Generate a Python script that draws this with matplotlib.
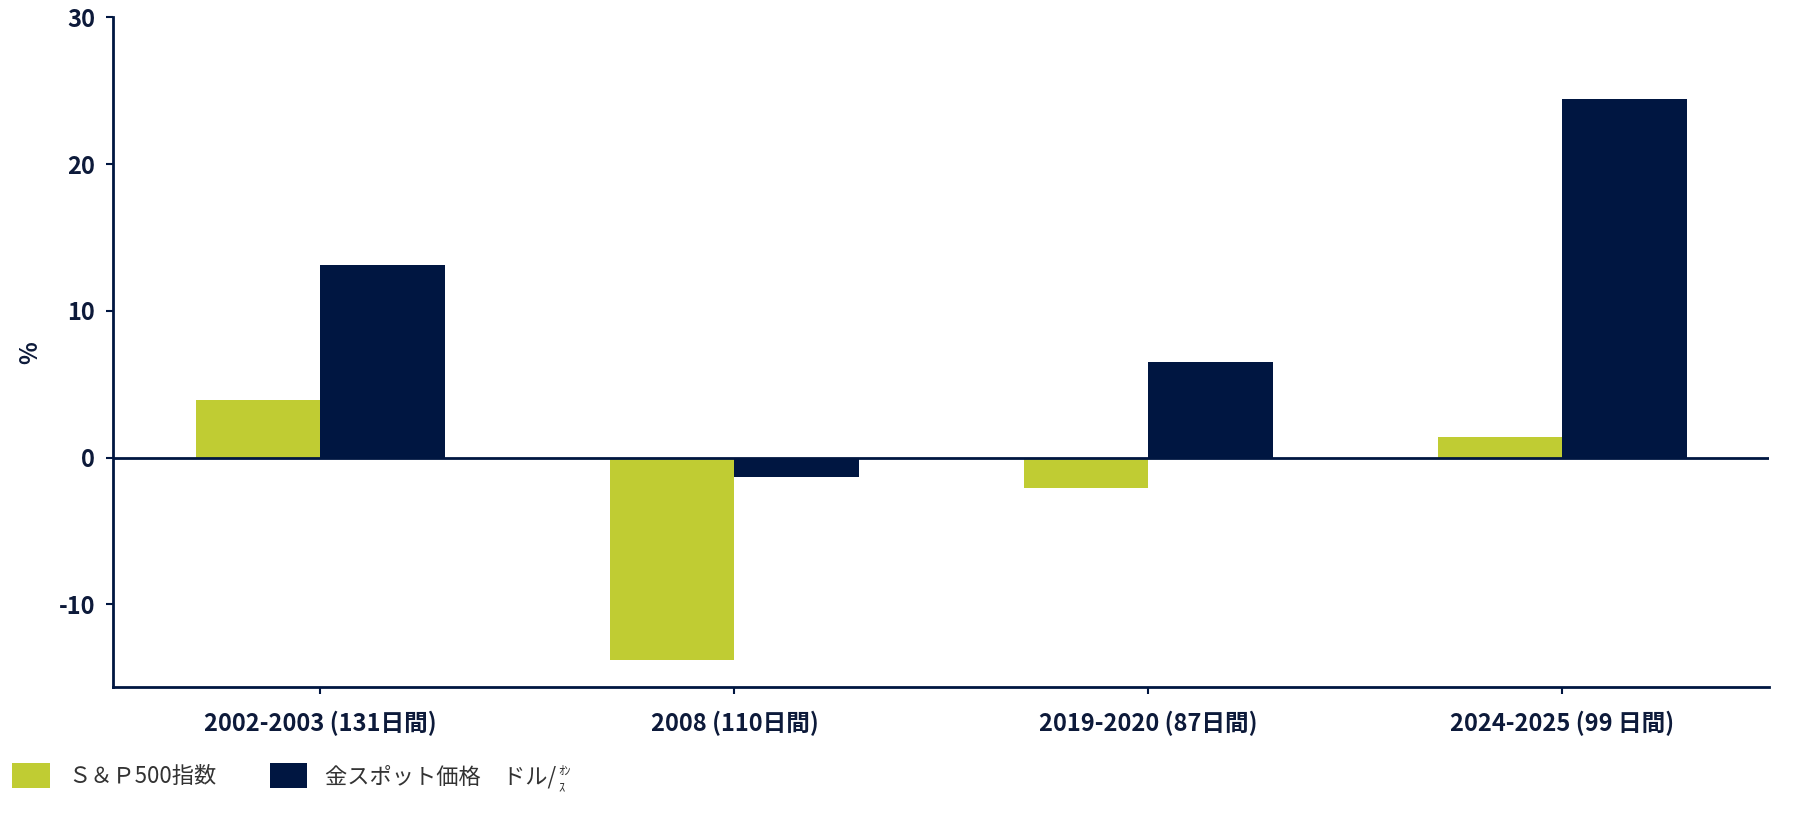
import numpy as np
import matplotlib
matplotlib.use('Agg')
import matplotlib.pyplot as plt

# データ
categories = ['2002-2003 (131日間)', '2008 (110日間)', '2019-2020 (87日間)', '2024-2025 (99 日間)']
sp500 = [3.9, -13.8, -2.1, 1.4]
gold = [13.1, -1.3, 6.5, 24.4]
legend_labels = ['Ｓ＆Ｐ500指数', '金スポット価格　ドル/']
yticks = [-10, 0, 10, 20, 30]

LIME = '#c0cc33'
NAVY = '#001641'
TEXT = '#0d1a3a'

plt.rcParams['font.family'] = ['Noto Sans CJK JP', 'DejaVu Sans']

fig = plt.figure(figsize=(18, 8.22), dpi=100)
ax = fig.add_axes([0.063, 0.164, 0.92, 0.815])

x = np.arange(len(categories))
w = 0.3
b1 = ax.bar(x - w/2, sp500, w, color=LIME, label=legend_labels[0])
b2 = ax.bar(x + w/2, gold, w, color=NAVY, label=legend_labels[1])

ax.axhline(0, color=NAVY, lw=2, zorder=3)
ax.set_xlim(-0.5, 3.5)
ax.set_ylim(-15.65, 30)
ax.set_yticks(yticks)
ax.set_yticklabels([str(v) for v in yticks], fontsize=17, fontweight='bold', color=TEXT)
ax.set_xticks(x)
ax.set_xticklabels(categories, fontsize=17, fontweight='bold', color=TEXT)
ax.set_ylabel('%', fontsize=17, fontweight='bold', color=TEXT, labelpad=12)

for s in ['top', 'right']:
    ax.spines[s].set_visible(False)
for s in ['left', 'bottom']:
    ax.spines[s].set_color(NAVY)
    ax.spines[s].set_linewidth(2)
ax.tick_params(axis='y', length=5, width=1.5, color=NAVY, pad=8)
ax.tick_params(axis='x', length=5, width=1.5, color=NAVY, pad=12)

# 凡例
leg = fig.legend(handles=[b1, b2], loc='lower left', bbox_to_anchor=(0.002, 0.03),
                 ncol=2, frameon=False, fontsize=16, handlelength=1.7, handleheight=1.4,
                 columnspacing=2.4, handletextpad=0.8, borderaxespad=0)
for t in leg.get_texts():
    t.set_color('#333333')

# 「ｵﾝｽ」を小さく
fig.canvas.draw()
bb = leg.get_texts()[1].get_window_extent()
inv = fig.transFigure.inverted()
x0, y1 = inv.transform((bb.x1 + 2, bb.y1))
fig.text(x0, y1 - 0.002, 'ｵﾝ', fontsize=9, color='#333333', va='top', ha='left')
fig.text(x0, y1 - 0.020, 'ｽ', fontsize=9, color='#333333', va='top', ha='left')

fig.savefig('out.png', dpi=100)
